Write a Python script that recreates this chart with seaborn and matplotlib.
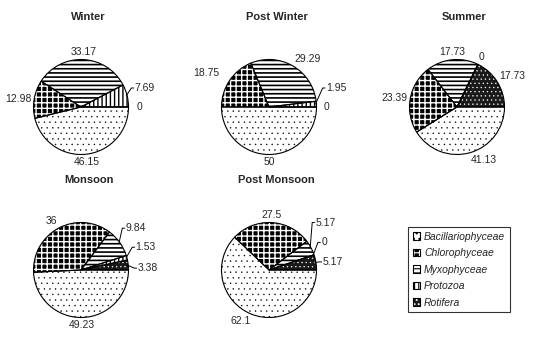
import numpy as np
import matplotlib
matplotlib.use("Agg")
import matplotlib.pyplot as plt
from matplotlib.patches import Patch
import seaborn as sns

sns.set_theme(style="white")
plt.rcParams['font.family'] = ['Liberation Sans', 'DejaVu Sans']
plt.rcParams['hatch.linewidth'] = 0.8

groups = ['Bacillariophyceae', 'Chlorophyceae', 'Myxophyceae', 'Protozoa', 'Rotifera']
seasons = ['Winter', 'Post Winter', 'Summer', 'Monsoon', 'Post Monsoon']
winter = [46.15, 12.98, 33.17, 7.69, 0]
post_winter = [50, 18.75, 29.29, 1.95, 0]
summer = [41.13, 23.39, 17.73, 0, 17.73]
monsoon = [49.23, 36, 9.84, 1.53, 3.38]
post_monsoon = [62.1, 27.5, 5.17, 0, 5.17]
values = [winter, post_winter, summer, monsoon, post_monsoon]

# fill style per group: face colour, hatch colour, hatch, hatch line width
styles = {
    'Bacillariophyceae': ('white', 'black', '...', 0.25),
    'Chlorophyceae': ('black', 'white', '+++', 1.0),
    'Myxophyceae': ('white', 'black', '----', 1.2),
    'Protozoa': ('white', 'black', '||||', 1.0),
    'Rotifera': ('#1a1a1a', 'white', '....', 0.4),
}


def style_patch(p, g):
    face, hc, hatch, hlw = styles[g]
    p.set_facecolor(face)
    p.set_edgecolor(hc)
    p.set_linewidth(0)
    p.set_hatch(hatch)
    if hasattr(p, 'set_hatch_linewidth'):
        p.set_hatch_linewidth(hlw)
    else:
        p._hatch_linewidth = hlw


W, H = 539, 351
R = 47.5
centers = [(81, 107), (269, 107), (457, 107), (81, 270), (269, 270)]

# hand placed labels (radius units, relative to pie centre) for crowded slices
label_fix = {
    (0, 3): (1.13, 0.40, 'left', True), (0, 4): (1.17, 0.0, 'left', False),
    (1, 1): (-1.05, 0.72, 'right', False),
    (1, 3): (1.20, 0.40, 'left', True), (1, 4): (1.16, 0.0, 'left', False),
    (3, 2): (0.94, 0.88, 'left', True), (3, 3): (1.15, 0.48, 'left', True),
    (3, 4): (1.19, 0.04, 'left', True),
    (4, 2): (0.98, 1.0, 'left', True), (4, 3): (1.10, 0.58, 'left', True),
    (4, 4): (1.13, 0.17, 'left', True),
}

fig = plt.figure(figsize=(W / 100, H / 100), dpi=100)
fs = 7.5

for k, (season, vals) in enumerate(zip(seasons, values)):
    cx, cy = centers[k]
    ax = fig.add_axes([(cx - R) / W, 1 - (cy + R) / H, 2 * R / W, 2 * R / H])
    wedges, _ = ax.pie(vals, startangle=0, counterclock=False, radius=1,
                       wedgeprops=dict(linewidth=0))
    for w, g in zip(wedges, groups):
        style_patch(w, g)
        w.set_clip_on(False)
    outl, _ = ax.pie(vals, startangle=0, counterclock=False, radius=1,
                     wedgeprops=dict(facecolor='none', edgecolor='black', linewidth=0.8))
    for w in outl:
        w.set_clip_on(False)
    ax.set_xlim(-1, 1)
    ax.set_ylim(-1, 1)
    ax.set_aspect('equal')
    ax.axis('off')

    ax.text(0.58, 1.45, season, transform=ax.transAxes, ha='center', va='center',
            fontsize=8, fontweight='bold')

    total = sum(vals)
    start = 0.0
    for i, v in enumerate(vals):
        sweep = 360 * v / total
        mid = np.deg2rad(start - sweep / 2)
        start -= sweep
        txt = f'{v:g}'
        c, s = np.cos(mid), np.sin(mid)
        if (k, i) in label_fix:
            x, y, ha, leader = label_fix[(k, i)]
            ax.text(x, y, txt, ha=ha, va='center', fontsize=fs)
            if leader:
                ax.plot([0.98 * c, x - 0.07, x - 0.02], [0.98 * s, y, y],
                        color='black', lw=0.7, clip_on=False)
            continue
        ha = 'center' if abs(c) < 0.2 else ('left' if c > 0 else 'right')
        va = 'bottom' if s > 0.5 else ('top' if s < -0.5 else 'center')
        ax.text(1.05 * c, 1.05 * s, txt, ha=ha, va=va, fontsize=fs)

handles = []
for g in groups:
    hp = Patch()
    style_patch(hp, g)
    handles.append((hp, Patch(facecolor='none', edgecolor='black', linewidth=0.8)))
leg = fig.legend(handles, groups, loc='upper left', bbox_to_anchor=(408 / W, 1 - 227 / H),
                 borderaxespad=0, frameon=True, fancybox=False, shadow=False,
                 handlelength=0.7, handleheight=0.7, handletextpad=0.4,
                 labelspacing=0.62, borderpad=0.45,
                 prop=dict(family='Liberation Sans', style='italic', size=7.5))
leg.get_frame().set_edgecolor('black')
leg.get_frame().set_linewidth(0.8)

fig.savefig('out.png', dpi=100)
